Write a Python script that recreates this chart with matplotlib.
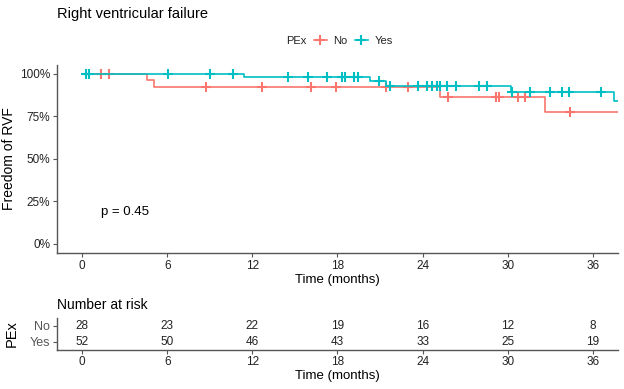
import numpy as np
import matplotlib
matplotlib.use("Agg")
import matplotlib.pyplot as plt
from matplotlib.lines import Line2D

plt.rcParams['font.family'] = ['Liberation Sans', 'DejaVu Sans']

# Kaplan-Meier step curves
no_times = [0, 4.56, 5.04, 25.2, 32.6, 37.8]
no_surv = [1.0, 0.962, 0.923, 0.862, 0.776, 0.776]
no_cens = [1.3, 1.9, 8.7, 12.7, 16.1, 17.9, 21.4, 23.0, 25.8, 29.2, 29.4,
           30.7, 31.2, 34.4]

yes_times = [0, 11.4, 20.3, 21.45, 30.25, 37.5, 37.8]
yes_surv = [1.0, 0.98, 0.959, 0.931, 0.896, 0.84, 0.84]
yes_cens = [0.3, 0.5, 6.05, 9.0, 10.6, 14.5, 15.9, 17.25, 18.35, 18.5, 19.15,
            19.45, 20.9, 21.7, 23.65, 24.3, 24.65, 25.0, 25.25, 25.7, 26.35,
            28.0, 28.55, 30.3, 31.55, 33.0, 33.8, 34.3, 36.6]

risk_times = [0, 6, 12, 18, 24, 30, 36]
risk_no = [28, 23, 22, 19, 16, 12, 8]
risk_yes = [52, 50, 46, 43, 33, 25, 19]

groups = ['No', 'Yes']
colors = ['#F8766D', '#00BFC4']
pval_text = 'p = 0.45'

axis_col = '#555555'
text_col = '#222222'


def surv_at(times, surv, t):
    idx = np.searchsorted(times, t, side='right') - 1
    return np.array(surv)[idx]


fig = plt.figure(figsize=(6.24, 3.89), dpi=100)

# ---- main KM plot
ax = fig.add_axes([0.0918, 0.3489, 0.899, 0.485])
for times, surv, cens, c in [(no_times, no_surv, no_cens, colors[0]),
                             (yes_times, yes_surv, yes_cens, colors[1])]:
    ax.step(times, surv, where='post', color=c, lw=1.2)
    ax.plot(cens, surv_at(times, surv, cens), ls='none', marker='+',
            ms=7, mew=1.5, color=c)

ax.set_xlim(-1.76, 37.8)
ax.set_ylim(-0.055, 1.055)
ax.set_xticks(risk_times)
ax.set_yticks([0, 0.25, 0.5, 0.75, 1.0])
ax.set_yticklabels(['0%', '25%', '50%', '75%', '100%'])
ax.text(1.3, 0.19, pval_text, fontsize=9.5, color='black', va='center')
ax.set_xlabel('Time (months)', fontsize=9.5, color='black', labelpad=1)
ax.set_ylabel('Freedom of RVF', fontsize=10, color='black', labelpad=3)
for s in ['top', 'right']:
    ax.spines[s].set_visible(False)
for s in ['left', 'bottom']:
    ax.spines[s].set_color(axis_col)
    ax.spines[s].set_linewidth(1.0)
ax.tick_params(colors=axis_col, labelcolor=text_col, labelsize=8.5, length=3,
               width=0.8, pad=2)

fig.text(0.0915, 0.965, 'Right ventricular failure', fontsize=10.5,
         color='black', va='center', ha='left')

# legend
fig.text(0.458, 0.895, 'PEx', fontsize=8, color=text_col, va='center')
handles = [Line2D([], [], color=c, lw=1.2, marker='+', ms=7, mew=1.5)
           for c in colors]
fig.legend(handles, groups, loc='center', bbox_to_anchor=(0.566, 0.895),
           ncol=2, frameon=False, fontsize=8, handlelength=1.2,
           handletextpad=0.6, columnspacing=0.6, borderpad=0,
           labelcolor=text_col)

# ---- risk table
rt = fig.add_axes([0.0918, 0.1015, 0.899, 0.0818])
for vals, y in [(risk_no, 2), (risk_yes, 1)]:
    for t, v in zip(risk_times, vals):
        rt.text(t, y, str(v), ha='center', va='center', fontsize=8.5,
                color=text_col)
rt.set_xlim(-1.76, 37.8)
rt.set_ylim(0.5, 2.5)
rt.set_xticks(risk_times)
rt.set_yticks([2, 1])
rt.set_yticklabels(groups)
for lab, c in zip(rt.get_yticklabels(), colors):
    lab.set_color(c)
rt.set_xlabel('Time (months)', fontsize=9.5, color='black', labelpad=1)
rt.set_ylabel('PEx', fontsize=10.5, color='black', labelpad=8)
for s in ['top', 'right']:
    rt.spines[s].set_visible(False)
for s in ['left', 'bottom']:
    rt.spines[s].set_color(axis_col)
    rt.spines[s].set_linewidth(1.0)
rt.tick_params(colors=axis_col, labelsize=8.5, length=3, width=0.8, pad=2)
rt.tick_params(axis='y', labelsize=9)
rt.tick_params(axis='x', labelcolor=text_col)
rt.set_title('Number at risk', loc='left', fontsize=10, color='black', pad=6)

fig.savefig('out.png', dpi=100)
